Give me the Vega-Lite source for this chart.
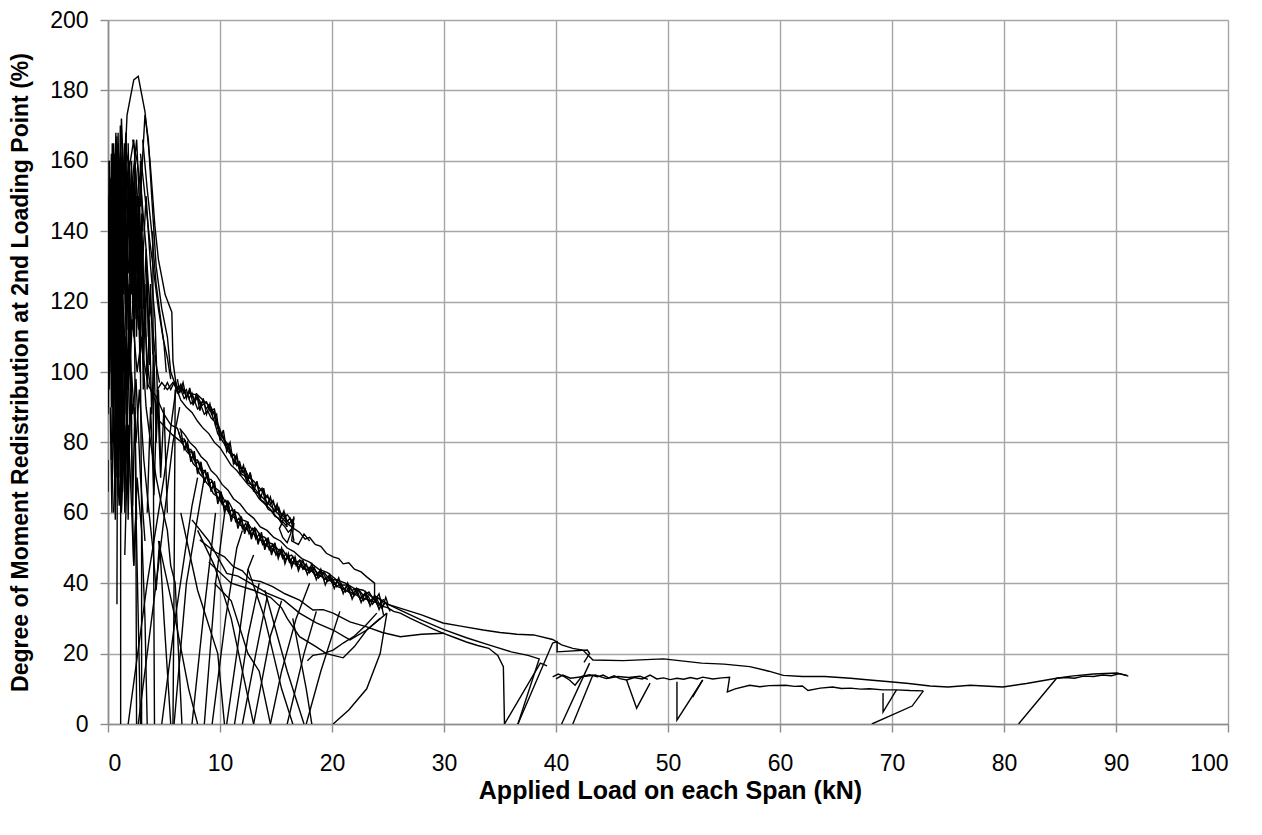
{
"$schema":"https://vega.github.io/schema/vega-lite/v6.json",
"width":1120,"height":704,
"autosize":{"type":"none"},
"padding":{"left":108,"top":20,"right":34,"bottom":111},
"background":"white",
"config":{"view":{"stroke":null},"axis":{"labelFont":"Liberation Sans","titleFont":"Liberation Sans","labelColor":"#000","titleColor":"#000","gridColor":"#a6a6a6","gridWidth":1.4,"domainColor":"#8c8c8c","domainWidth":1.6,"tickColor":"#8c8c8c","tickWidth":1.4,"tickSize":8,"labelFontSize":23,"titleFontWeight":"bold"}},
"data":{"values":[
{"s":"E1","x":0,"y":66},{"s":"E1","x":0,"y":75},
{"s":"E2","x":0,"y":88},{"s":"E2","x":0.15,"y":125},{"s":"E2","x":0.3,"y":152},{"s":"E2","x":0.45,"y":138},{"s":"E2","x":0.6,"y":160},{"s":"E2","x":0.75,"y":145},{"s":"E2","x":0.9,"y":165},{"s":"E2","x":1.05,"y":150},{"s":"E2","x":1.13,"y":110},{"s":"E2","x":1.13,"y":0},
{"s":"E3","x":0,"y":110},{"s":"E3","x":0.2,"y":145},{"s":"E3","x":0.35,"y":158},{"s":"E3","x":0.5,"y":130},{"s":"E3","x":0.65,"y":162},{"s":"E3","x":0.8,"y":120},{"s":"E3","x":0.82,"y":60},{"s":"E3","x":0.8,"y":34},
{"s":"E4","x":0.05,"y":95},{"s":"E4","x":0.25,"y":150},{"s":"E4","x":0.45,"y":163},{"s":"E4","x":0.6,"y":150},{"s":"E4","x":0.8,"y":167},{"s":"E4","x":1.0,"y":140},{"s":"E4","x":1.2,"y":172},{"s":"E4","x":1.4,"y":155},{"s":"E4","x":1.7,"y":130},{"s":"E4","x":2.0,"y":112},{"s":"E4","x":2.2,"y":60},{"s":"E4","x":2.3,"y":45},{"s":"E4","x":2.5,"y":60},{"s":"E4","x":2.7,"y":30},{"s":"E4","x":2.9,"y":0},
{"s":"E5","x":0.1,"y":118},{"s":"E5","x":0.35,"y":140},{"s":"E5","x":0.6,"y":156},{"s":"E5","x":0.9,"y":148},{"s":"E5","x":1.1,"y":160},{"s":"E5","x":1.35,"y":150},{"s":"E5","x":1.6,"y":168},{"s":"E5","x":1.9,"y":140},{"s":"E5","x":2.1,"y":155},{"s":"E5","x":2.4,"y":120},{"s":"E5","x":2.6,"y":135},{"s":"E5","x":2.9,"y":100},{"s":"E5","x":3.0,"y":60},{"s":"E5","x":3.0,"y":0},
{"s":"E11","x":1.0,"y":90},{"s":"E11","x":1.4,"y":105},{"s":"E11","x":1.8,"y":95},{"s":"E11","x":2.2,"y":115},{"s":"E11","x":2.6,"y":100},{"s":"E11","x":3.0,"y":110},{"s":"E11","x":3.4,"y":90},{"s":"E11","x":3.8,"y":80},{"s":"E11","x":4.3,"y":70},{"s":"E11","x":4.8,"y":62},{"s":"E11","x":5.3,"y":55},{"s":"E11","x":5.6,"y":45},{"s":"E11","x":6.0,"y":40},{"s":"E11","x":6.3,"y":20},{"s":"E11","x":6.6,"y":0},
{"s":"E12","x":1.2,"y":60},{"s":"E12","x":1.5,"y":85},{"s":"E12","x":1.8,"y":70},{"s":"E12","x":2.1,"y":100},{"s":"E12","x":2.5,"y":80},{"s":"E12","x":2.8,"y":95},{"s":"E12","x":3.2,"y":75},{"s":"E12","x":3.6,"y":62},{"s":"E12","x":4.0,"y":50},{"s":"E12","x":4.3,"y":38},{"s":"E12","x":4.6,"y":52},{"s":"E12","x":5.0,"y":30},{"s":"E12","x":5.4,"y":10},{"s":"E12","x":5.6,"y":0},
{"s":"E13","x":1.5,"y":48},{"s":"E13","x":1.8,"y":85},{"s":"E13","x":2.1,"y":62},{"s":"E13","x":2.3,"y":45},{"s":"E13","x":2.6,"y":70},{"s":"E13","x":3.0,"y":55},{"s":"E13","x":3.3,"y":30},{"s":"E13","x":3.5,"y":0},
{"s":"E14","x":0.5,"y":60},{"s":"E14","x":0.7,"y":80},{"s":"E14","x":1.0,"y":62},{"s":"E14","x":1.3,"y":95},{"s":"E14","x":1.6,"y":75},{"s":"E14","x":1.9,"y":105},{"s":"E14","x":2.2,"y":88},{"s":"E14","x":2.5,"y":98},{"s":"E14","x":2.9,"y":70},{"s":"E14","x":3.3,"y":52},
{"s":"E15","x":0,"y":150},{"s":"E15","x":0.1,"y":120},{"s":"E15","x":0.2,"y":155},{"s":"E15","x":0.3,"y":110},{"s":"E15","x":0.4,"y":150},{"s":"E15","x":0.5,"y":100},{"s":"E15","x":0.6,"y":145},{"s":"E15","x":0.7,"y":95},{"s":"E15","x":0.85,"y":140},{"s":"E15","x":1.0,"y":105},{"s":"E15","x":1.1,"y":150},{"s":"E15","x":1.25,"y":115},{"s":"E15","x":1.4,"y":155},{"s":"E15","x":1.55,"y":120},
{"s":"E16","x":0,"y":130},{"s":"E16","x":0.12,"y":160},{"s":"E16","x":0.25,"y":118},{"s":"E16","x":0.38,"y":165},{"s":"E16","x":0.5,"y":125},{"s":"E16","x":0.62,"y":160},{"s":"E16","x":0.75,"y":112},{"s":"E16","x":0.9,"y":155},{"s":"E16","x":1.05,"y":120},{"s":"E16","x":1.2,"y":148},{"s":"E16","x":1.35,"y":100},{"s":"E16","x":1.5,"y":140},{"s":"E16","x":1.7,"y":95},{"s":"E16","x":1.9,"y":125},{"s":"E16","x":2.1,"y":85},
{"s":"E17","x":0.05,"y":105},{"s":"E17","x":0.2,"y":140},{"s":"E17","x":0.35,"y":95},{"s":"E17","x":0.5,"y":135},{"s":"E17","x":0.7,"y":85},{"s":"E17","x":0.85,"y":125},{"s":"E17","x":1.0,"y":78},{"s":"E17","x":1.2,"y":120},{"s":"E17","x":1.4,"y":72},{"s":"E17","x":1.6,"y":110},{"s":"E17","x":1.8,"y":65},{"s":"E17","x":2.0,"y":100},{"s":"E17","x":2.2,"y":62},{"s":"E17","x":2.4,"y":90},{"s":"E17","x":2.55,"y":58},
{"s":"E18","x":0,"y":145},{"s":"E18","x":0.15,"y":100},{"s":"E18","x":0.3,"y":140},{"s":"E18","x":0.45,"y":90},{"s":"E18","x":0.6,"y":130},{"s":"E18","x":0.75,"y":82},{"s":"E18","x":0.9,"y":120},{"s":"E18","x":1.1,"y":75},{"s":"E18","x":1.3,"y":115},{"s":"E18","x":1.5,"y":88},{"s":"E18","x":1.7,"y":128},{"s":"E18","x":1.9,"y":100},{"s":"E18","x":2.1,"y":138},{"s":"E18","x":2.3,"y":110},{"s":"E18","x":2.5,"y":150},{"s":"E18","x":2.7,"y":125},{"s":"E18","x":2.9,"y":160},{"s":"E18","x":3.1,"y":140},
{"s":"E19","x":0.5,"y":150},{"s":"E19","x":0.7,"y":166},{"s":"E19","x":0.9,"y":140},{"s":"E19","x":1.1,"y":160},{"s":"E19","x":1.3,"y":135},{"s":"E19","x":1.5,"y":158},{"s":"E19","x":1.7,"y":128},{"s":"E19","x":1.9,"y":150},{"s":"E19","x":2.1,"y":122},{"s":"E19","x":2.3,"y":145},{"s":"E19","x":2.5,"y":115},{"s":"E19","x":2.7,"y":140},{"s":"E19","x":2.9,"y":108},
{"s":"E20","x":0.2,"y":90},{"s":"E20","x":0.35,"y":60},{"s":"E20","x":0.5,"y":95},{"s":"E20","x":0.65,"y":58},{"s":"E20","x":0.8,"y":100},{"s":"E20","x":0.95,"y":70},{"s":"E20","x":1.1,"y":108},{"s":"E20","x":1.3,"y":75},{"s":"E20","x":1.5,"y":110},{"s":"E20","x":1.7,"y":80},{"s":"E20","x":1.9,"y":115},{"s":"E20","x":2.1,"y":90},
{"s":"E21","x":2.3,"y":140},{"s":"E21","x":2.4,"y":100},{"s":"E21","x":2.5,"y":50},{"s":"E21","x":2.55,"y":0},
{"s":"E22","x":0,"y":100},{"s":"E22","x":0.08,"y":140},{"s":"E22","x":0.16,"y":105},{"s":"E22","x":0.24,"y":150},{"s":"E22","x":0.32,"y":112},{"s":"E22","x":0.4,"y":158},{"s":"E22","x":0.48,"y":120},{"s":"E22","x":0.56,"y":162},{"s":"E22","x":0.64,"y":125},{"s":"E22","x":0.72,"y":155},{"s":"E22","x":0.8,"y":118},{"s":"E22","x":0.88,"y":150},{"s":"E22","x":0.96,"y":110},{"s":"E22","x":1.04,"y":145},{"s":"E22","x":1.12,"y":105},
{"s":"E23","x":0.1,"y":160},{"s":"E23","x":0.2,"y":130},{"s":"E23","x":0.3,"y":162},{"s":"E23","x":0.4,"y":135},{"s":"E23","x":0.5,"y":165},{"s":"E23","x":0.6,"y":138},{"s":"E23","x":0.7,"y":168},{"s":"E23","x":0.8,"y":140},{"s":"E23","x":0.9,"y":160},{"s":"E23","x":1.0,"y":132},{"s":"E23","x":1.1,"y":155},{"s":"E23","x":1.2,"y":128},{"s":"E23","x":1.3,"y":150},{"s":"E23","x":1.4,"y":122},{"s":"E23","x":1.5,"y":145},{"s":"E23","x":1.6,"y":118},{"s":"E23","x":1.7,"y":140},{"s":"E23","x":1.8,"y":112},
{"s":"E24","x":0,"y":120},{"s":"E24","x":0.1,"y":95},{"s":"E24","x":0.2,"y":125},{"s":"E24","x":0.3,"y":90},{"s":"E24","x":0.4,"y":118},{"s":"E24","x":0.5,"y":85},{"s":"E24","x":0.6,"y":115},{"s":"E24","x":0.7,"y":80},{"s":"E24","x":0.8,"y":110},{"s":"E24","x":0.9,"y":75},{"s":"E24","x":1.0,"y":105},{"s":"E24","x":1.1,"y":70},{"s":"E24","x":1.2,"y":100},{"s":"E24","x":1.3,"y":66},{"s":"E24","x":1.4,"y":95},{"s":"E24","x":1.5,"y":62},
{"s":"E25","x":1.5,"y":160},{"s":"E25","x":1.65,"y":130},{"s":"E25","x":1.8,"y":155},{"s":"E25","x":1.95,"y":125},{"s":"E25","x":2.1,"y":150},{"s":"E25","x":2.25,"y":118},{"s":"E25","x":2.4,"y":145},{"s":"E25","x":2.55,"y":110},{"s":"E25","x":2.7,"y":138},{"s":"E25","x":2.85,"y":100},{"s":"E25","x":3.0,"y":130},{"s":"E25","x":3.15,"y":95},{"s":"E25","x":3.3,"y":120},
{"s":"E26","x":0.3,"y":75},{"s":"E26","x":0.45,"y":110},{"s":"E26","x":0.6,"y":70},{"s":"E26","x":0.75,"y":105},{"s":"E26","x":0.9,"y":65},{"s":"E26","x":1.05,"y":100},{"s":"E26","x":1.2,"y":62},{"s":"E26","x":1.35,"y":95},{"s":"E26","x":1.5,"y":60},{"s":"E26","x":1.65,"y":90},{"s":"E26","x":1.8,"y":58},{"s":"E26","x":1.95,"y":85},
{"s":"E27","x":0.05,"y":140},{"s":"E27","x":0.05,"y":90},
{"s":"E28","x":1.8,"y":165},{"s":"E28","x":1.95,"y":140},{"s":"E28","x":2.1,"y":160},{"s":"E28","x":2.25,"y":135},{"s":"E28","x":2.4,"y":158},{"s":"E28","x":2.55,"y":130},{"s":"E28","x":2.7,"y":150},{"s":"E28","x":2.85,"y":125},{"s":"E28","x":3.0,"y":145},{"s":"E28","x":3.2,"y":118},{"s":"E28","x":3.4,"y":135},{"s":"E28","x":3.6,"y":110},{"s":"E28","x":3.8,"y":125},{"s":"E28","x":4.0,"y":105},
{"s":"E29","x":2.9,"y":162},{"s":"E29","x":3.3,"y":150},{"s":"E29","x":3.7,"y":138},{"s":"E29","x":4.1,"y":128},{"s":"E29","x":4.5,"y":118},{"s":"E29","x":4.9,"y":110},{"s":"E29","x":5.3,"y":104},{"s":"E29","x":5.6,"y":98},
{"s":"E30","x":3.1,"y":166},{"s":"E30","x":3.5,"y":152},{"s":"E30","x":3.9,"y":140},{"s":"E30","x":4.3,"y":125},{"s":"E30","x":4.7,"y":115},{"s":"E30","x":5.0,"y":108},{"s":"E30","x":5.2,"y":100},
{"s":"E31","x":2.2,"y":166},{"s":"E31","x":2.6,"y":160},{"s":"E31","x":3.0,"y":150},{"s":"E31","x":3.4,"y":135},{"s":"E31","x":3.7,"y":120},{"s":"E31","x":4.0,"y":112},{"s":"E31","x":4.3,"y":102},{"s":"E31","x":4.6,"y":97},
{"s":"E32","x":2.5,"y":150},{"s":"E32","x":2.7,"y":120},{"s":"E32","x":2.9,"y":140},{"s":"E32","x":3.1,"y":105},{"s":"E32","x":3.3,"y":125},{"s":"E32","x":3.5,"y":95},{"s":"E32","x":3.7,"y":115},{"s":"E32","x":3.9,"y":88},{"s":"E32","x":4.1,"y":105},{"s":"E32","x":4.3,"y":80},{"s":"E32","x":4.5,"y":95},{"s":"E32","x":4.7,"y":75},
{"s":"E33","x":1.9,"y":160},{"s":"E33","x":2.1,"y":138},{"s":"E33","x":2.3,"y":152},{"s":"E33","x":2.5,"y":128},{"s":"E33","x":2.7,"y":145},{"s":"E33","x":2.9,"y":118},{"s":"E33","x":3.1,"y":135},{"s":"E33","x":3.3,"y":110},{"s":"E33","x":3.5,"y":128},{"s":"E33","x":3.7,"y":102},
{"s":"E34","x":0.9,"y":168},{"s":"E34","x":1.0,"y":145},{"s":"E34","x":1.1,"y":170},{"s":"E34","x":1.2,"y":150},{"s":"E34","x":1.3,"y":165},{"s":"E34","x":1.45,"y":140},{"s":"E34","x":1.6,"y":162},{"s":"E34","x":1.75,"y":138},{"s":"E34","x":1.9,"y":158},{"s":"E34","x":2.05,"y":132},
{"s":"E35","x":3.5,"y":60},{"s":"E35","x":3.8,"y":90},{"s":"E35","x":4.1,"y":65},{"s":"E35","x":4.4,"y":95},{"s":"E35","x":4.7,"y":70},{"s":"E35","x":5.0,"y":90},{"s":"E35","x":5.3,"y":60},
{"s":"E36","x":4.0,"y":140},{"s":"E36","x":4.05,"y":80},{"s":"E36","x":4.1,"y":30},{"s":"E36","x":4.15,"y":0},
{"s":"V1","x":6.0,"y":95},{"s":"V1","x":5.9,"y":40},{"s":"V1","x":5.8,"y":0},
{"s":"U1","x":0.2,"y":135},{"s":"U1","x":0.5,"y":150},{"s":"U1","x":0.9,"y":162},{"s":"U1","x":1.3,"y":145},{"s":"U1","x":1.7,"y":173},{"s":"U1","x":2.0,"y":178},{"s":"U1","x":2.3,"y":183},{"s":"U1","x":2.7,"y":184},{"s":"U1","x":3.3,"y":174},{"s":"U1","x":3.75,"y":160},{"s":"U1","x":4.2,"y":141},{"s":"U1","x":4.5,"y":132},{"s":"U1","x":5.1,"y":122},{"s":"U1","x":5.7,"y":117},{"s":"U1","x":5.8,"y":103},{"s":"U1","x":6.1,"y":96},{"s":"U1","x":7,"y":94},{"s":"U1","x":8,"y":93.5},{"s":"U1","x":8.5,"y":92},{"s":"U1","x":9.2,"y":90},{"s":"U1","x":9.6,"y":87},{"s":"U1","x":9.8,"y":84},{"s":"U1","x":10.5,"y":80},{"s":"U1","x":11.2,"y":75},{"s":"U1","x":12,"y":72},{"s":"U1","x":12.8,"y":68},{"s":"U1","x":13.6,"y":65},{"s":"U1","x":14.5,"y":62},{"s":"U1","x":15.4,"y":59},{"s":"U1","x":16,"y":57},{"s":"U1","x":16.6,"y":55.5},{"s":"U1","x":17.1,"y":54.5},{"s":"U1","x":17.6,"y":52.5},{"s":"U1","x":18,"y":53},{"s":"U1","x":18.5,"y":51},{"s":"U1","x":19,"y":50.5},{"s":"U1","x":19.5,"y":48.5},{"s":"U1","x":20.1,"y":47.5},{"s":"U1","x":20.6,"y":47},{"s":"U1","x":21,"y":45.5},{"s":"U1","x":21.5,"y":45.8},{"s":"U1","x":22,"y":44},{"s":"U1","x":22.6,"y":43.2},{"s":"U1","x":23.1,"y":41.8},{"s":"U1","x":23.8,"y":40},{"s":"U1","x":23.8,"y":36.5},{"s":"U1","x":25,"y":34},{"s":"U1","x":26.5,"y":32.5},{"s":"U1","x":28,"y":31},{"s":"U1","x":29.9,"y":28.7},{"s":"U1","x":31.5,"y":27.8},{"s":"U1","x":33.5,"y":26.7},{"s":"U1","x":35,"y":26},{"s":"U1","x":36.5,"y":25.5},{"s":"U1","x":38,"y":25.3},{"s":"U1","x":39.7,"y":24},{"s":"U1","x":40.5,"y":22.5},{"s":"U1","x":41.5,"y":21.5},{"s":"U1","x":42.4,"y":21},{"s":"U1","x":43.3,"y":18.2},{"s":"U1","x":46,"y":18},{"s":"U1","x":49.6,"y":18.5},{"s":"U1","x":51,"y":18},{"s":"U1","x":53,"y":17.3},{"s":"U1","x":55,"y":17},{"s":"U1","x":57.3,"y":16.3},{"s":"U1","x":59,"y":15},{"s":"U1","x":60.3,"y":13.8},{"s":"U1","x":62,"y":13.5},{"s":"U1","x":64,"y":13.5},{"s":"U1","x":66.3,"y":13},{"s":"U1","x":68,"y":12.5},{"s":"U1","x":69.8,"y":12},{"s":"U1","x":71.5,"y":11.5},{"s":"U1","x":73.4,"y":10.8},{"s":"U1","x":75,"y":10.5},{"s":"U1","x":77,"y":11},{"s":"U1","x":79.9,"y":10.5},{"s":"U1","x":82,"y":11.5},{"s":"U1","x":84.7,"y":13},{"s":"U1","x":86,"y":13.6},{"s":"U1","x":88,"y":14.2},{"s":"U1","x":90.1,"y":14.5},{"s":"U1","x":91.1,"y":13.6},
{"s":"U2","x":0.4,"y":80},{"s":"U2","x":0.7,"y":120},{"s":"U2","x":1.0,"y":140},{"s":"U2","x":1.3,"y":125},{"s":"U2","x":1.6,"y":150},{"s":"U2","x":2.0,"y":135},{"s":"U2","x":2.4,"y":160},{"s":"U2","x":2.7,"y":145},{"s":"U2","x":3.0,"y":125},{"s":"U2","x":3.4,"y":150},{"s":"U2","x":3.8,"y":130},{"s":"U2","x":4.2,"y":115},{"s":"U2","x":4.4,"y":95},{"s":"U2","x":4.8,"y":97},{"s":"U2","x":5.3,"y":95},{"s":"U2","x":5.8,"y":97},{"s":"U2","x":6.2,"y":95},{"s":"U2","x":6.6,"y":96},{"s":"U2","x":7.0,"y":93},{"s":"U2","x":7.3,"y":94.5},{"s":"U2","x":7.7,"y":92},{"s":"U2","x":8.0,"y":93},{"s":"U2","x":8.4,"y":90.5},{"s":"U2","x":8.8,"y":91.5},{"s":"U2","x":9.1,"y":89},{"s":"U2","x":9.5,"y":89.5},{"s":"U2","x":9.7,"y":86},{"s":"U2","x":9.9,"y":84.5},{"s":"U2","x":10.3,"y":81},{"s":"U2","x":10.7,"y":79.5},{"s":"U2","x":11.0,"y":77},{"s":"U2","x":11.4,"y":76},{"s":"U2","x":11.8,"y":73},{"s":"U2","x":12.2,"y":72.5},{"s":"U2","x":12.6,"y":70},{"s":"U2","x":13.0,"y":69},{"s":"U2","x":13.4,"y":67.5},{"s":"U2","x":13.8,"y":66},{"s":"U2","x":14.2,"y":64.5},{"s":"U2","x":14.6,"y":63.5},{"s":"U2","x":15.0,"y":61.5},{"s":"U2","x":15.4,"y":60},{"s":"U2","x":15.8,"y":58.5},{"s":"U2","x":16.2,"y":57},{"s":"U2","x":16.6,"y":58.5},{"s":"U2","x":16.3,"y":54},{"s":"U2","x":16.0,"y":51.5},{"s":"U2","x":15.6,"y":53},{"s":"U2","x":15.3,"y":55.5},{"s":"U2","x":15.6,"y":57.5},{"s":"U2","x":16.0,"y":56},
{"s":"U3","x":0.3,"y":100},{"s":"U3","x":0.6,"y":128},{"s":"U3","x":0.9,"y":150},{"s":"U3","x":1.2,"y":140},{"s":"U3","x":1.5,"y":165},{"s":"U3","x":1.9,"y":158},{"s":"U3","x":2.3,"y":166},{"s":"U3","x":2.6,"y":150},{"s":"U3","x":2.9,"y":147},{"s":"U3","x":3.0,"y":156},{"s":"U3","x":3.3,"y":173},{"s":"U3","x":3.6,"y":166},{"s":"U3","x":3.9,"y":150},{"s":"U3","x":4.3,"y":130},{"s":"U3","x":4.8,"y":118},{"s":"U3","x":5.3,"y":110},{"s":"U3","x":5.6,"y":100},{"s":"U3","x":6.0,"y":96.5},{"s":"U3","x":6.5,"y":92},{"s":"U3","x":7.0,"y":90},{"s":"U3","x":7.5,"y":88.5},{"s":"U3","x":8.0,"y":86},{"s":"U3","x":8.5,"y":84},{"s":"U3","x":9.0,"y":82.5},{"s":"U3","x":9.5,"y":80},{"s":"U3","x":10.0,"y":78.5},{"s":"U3","x":10.5,"y":76},{"s":"U3","x":11.0,"y":73.5},{"s":"U3","x":11.5,"y":72},{"s":"U3","x":12.0,"y":70},{"s":"U3","x":12.5,"y":68},{"s":"U3","x":13.0,"y":66.5},{"s":"U3","x":13.5,"y":64},{"s":"U3","x":14.0,"y":62.5},{"s":"U3","x":14.5,"y":61},{"s":"U3","x":15.0,"y":59},{"s":"U3","x":15.5,"y":57.5},{"s":"U3","x":16.0,"y":59.5},{"s":"U3","x":16.6,"y":57},{"s":"U3","x":16.4,"y":52},{"s":"U3","x":17.0,"y":51},{"s":"U3","x":17.5,"y":54},{"s":"U3","x":18,"y":52},
{"s":"U4","x":6.0,"y":97.5},{"s":"U4","x":6.25,"y":95},{"s":"U4","x":6.5,"y":96.5},{"s":"U4","x":6.75,"y":94},{"s":"U4","x":7.0,"y":95},{"s":"U4","x":7.25,"y":92.5},{"s":"U4","x":7.5,"y":94},{"s":"U4","x":7.75,"y":91.5},{"s":"U4","x":8.0,"y":93},{"s":"U4","x":8.25,"y":90.5},{"s":"U4","x":8.5,"y":92},{"s":"U4","x":8.75,"y":89.5},{"s":"U4","x":9.0,"y":90.5},{"s":"U4","x":9.25,"y":88},{"s":"U4","x":9.5,"y":89},{"s":"U4","x":9.6,"y":85},{"s":"U4","x":9.75,"y":85.5},{"s":"U4","x":10.0,"y":82},{"s":"U4","x":10.25,"y":82},{"s":"U4","x":10.5,"y":79},{"s":"U4","x":10.75,"y":79.5},{"s":"U4","x":11.0,"y":76},{"s":"U4","x":11.25,"y":76.5},{"s":"U4","x":11.5,"y":73.5},{"s":"U4","x":11.75,"y":74.5},{"s":"U4","x":12.0,"y":71.5},{"s":"U4","x":12.25,"y":72.5},{"s":"U4","x":12.5,"y":69.5},{"s":"U4","x":12.75,"y":70.5},{"s":"U4","x":13.0,"y":67.5},{"s":"U4","x":13.25,"y":68.5},{"s":"U4","x":13.5,"y":66},{"s":"U4","x":13.75,"y":67},{"s":"U4","x":14.0,"y":64},{"s":"U4","x":14.25,"y":65},{"s":"U4","x":14.5,"y":62.5},{"s":"U4","x":14.75,"y":63.5},{"s":"U4","x":15.0,"y":60.5},{"s":"U4","x":15.25,"y":61.5},{"s":"U4","x":15.5,"y":59},{"s":"U4","x":15.75,"y":60},{"s":"U4","x":16.0,"y":57.5},{"s":"U4","x":16.25,"y":58.5},{"s":"U4","x":16.5,"y":56},{"s":"U4","x":16.6,"y":59},
{"s":"U5","x":5.0,"y":95},{"s":"U5","x":5.3,"y":97},{"s":"U5","x":5.6,"y":95},{"s":"U5","x":5.9,"y":97},{"s":"U5","x":6.2,"y":94},{"s":"U5","x":6.5,"y":95},{"s":"U5","x":6.8,"y":92.5},{"s":"U5","x":7.1,"y":93.5},{"s":"U5","x":7.4,"y":91},{"s":"U5","x":7.7,"y":92},{"s":"U5","x":8.0,"y":89.5},{"s":"U5","x":8.3,"y":90.5},{"s":"U5","x":8.6,"y":88},{"s":"U5","x":8.9,"y":89},{"s":"U5","x":9.2,"y":87},{"s":"U5","x":9.5,"y":86},{"s":"U5","x":9.8,"y":82.5},{"s":"U5","x":10.1,"y":81},{"s":"U5","x":10.4,"y":79.5},{"s":"U5","x":10.7,"y":77.5},{"s":"U5","x":11.0,"y":76.5},{"s":"U5","x":11.3,"y":74},{"s":"U5","x":11.6,"y":73.5},{"s":"U5","x":11.9,"y":71},{"s":"U5","x":12.2,"y":70.5},{"s":"U5","x":12.5,"y":68.5},{"s":"U5","x":12.8,"y":68},{"s":"U5","x":13.1,"y":66},{"s":"U5","x":13.4,"y":65.5},{"s":"U5","x":13.7,"y":63.5},{"s":"U5","x":14.0,"y":63},{"s":"U5","x":14.3,"y":61},{"s":"U5","x":14.6,"y":60.5},{"s":"U5","x":14.9,"y":59},{"s":"U5","x":15.2,"y":58.5},{"s":"U5","x":15.5,"y":57},{"s":"U5","x":15.8,"y":56},{"s":"U5","x":16.1,"y":54.5},{"s":"U5","x":16.4,"y":55.5},{"s":"U5","x":16.6,"y":52},
{"s":"U6","x":6.2,"y":98},{"s":"U6","x":6.4,"y":94},{"s":"U6","x":6.7,"y":97},{"s":"U6","x":7.0,"y":92.5},{"s":"U6","x":7.3,"y":95.5},{"s":"U6","x":7.6,"y":90.5},{"s":"U6","x":7.9,"y":94},{"s":"U6","x":8.2,"y":89},{"s":"U6","x":8.5,"y":92.5},{"s":"U6","x":8.8,"y":88},{"s":"U6","x":9.1,"y":91},{"s":"U6","x":9.4,"y":86.5},{"s":"U6","x":9.7,"y":88},{"s":"U6","x":10.0,"y":80.5},{"s":"U6","x":10.3,"y":83.5},{"s":"U6","x":10.6,"y":77.5},{"s":"U6","x":10.9,"y":80},{"s":"U6","x":11.2,"y":74},{"s":"U6","x":11.5,"y":76.5},{"s":"U6","x":11.8,"y":71},{"s":"U6","x":12.1,"y":73.5},{"s":"U6","x":12.4,"y":68.5},{"s":"U6","x":12.7,"y":71.5},{"s":"U6","x":13.0,"y":66},{"s":"U6","x":13.3,"y":69},{"s":"U6","x":13.6,"y":64},{"s":"U6","x":13.9,"y":67},{"s":"U6","x":14.2,"y":62},{"s":"U6","x":14.5,"y":64.5},{"s":"U6","x":14.8,"y":60},{"s":"U6","x":15.1,"y":62.5},{"s":"U6","x":15.4,"y":58},{"s":"U6","x":15.7,"y":60.5},{"s":"U6","x":16.0,"y":56},
{"s":"M1","x":0.6,"y":95},{"s":"M1","x":0.9,"y":130},{"s":"M1","x":1.2,"y":118},{"s":"M1","x":1.5,"y":140},{"s":"M1","x":1.8,"y":128},{"s":"M1","x":2.2,"y":155},{"s":"M1","x":2.56,"y":166},{"s":"M1","x":2.9,"y":140},{"s":"M1","x":3.2,"y":120},{"s":"M1","x":3.5,"y":103},{"s":"M1","x":3.8,"y":95},{"s":"M1","x":4.2,"y":92},{"s":"M1","x":4.6,"y":86},{"s":"M1","x":5.2,"y":84},{"s":"M1","x":5.8,"y":82},{"s":"M1","x":6.4,"y":80.5},{"s":"M1","x":6.7,"y":79.5},{"s":"M1","x":7.0,"y":77.5},{"s":"M1","x":7.3,"y":76.5},{"s":"M1","x":7.6,"y":74},{"s":"M1","x":7.9,"y":73},{"s":"M1","x":8.2,"y":71},{"s":"M1","x":8.5,"y":70},{"s":"M1","x":8.8,"y":68.5},{"s":"M1","x":9.1,"y":67.5},{"s":"M1","x":9.4,"y":65.5},{"s":"M1","x":9.8,"y":64.5},{"s":"M1","x":10.2,"y":62.5},{"s":"M1","x":10.6,"y":61},{"s":"M1","x":11.0,"y":59},{"s":"M1","x":11.4,"y":58.5},{"s":"M1","x":11.8,"y":56.5},{"s":"M1","x":12.2,"y":56},{"s":"M1","x":12.6,"y":54.5},{"s":"M1","x":13.0,"y":54},{"s":"M1","x":13.4,"y":52.5},{"s":"M1","x":13.8,"y":52},{"s":"M1","x":14.2,"y":50.5},{"s":"M1","x":14.6,"y":50},{"s":"M1","x":15.0,"y":48.5},{"s":"M1","x":15.4,"y":48.5},{"s":"M1","x":15.8,"y":47},{"s":"M1","x":16.2,"y":47},{"s":"M1","x":16.6,"y":45.5},{"s":"M1","x":17.0,"y":45.5},{"s":"M1","x":17.5,"y":44},{"s":"M1","x":18.0,"y":44},{"s":"M1","x":18.5,"y":42.5},{"s":"M1","x":19.0,"y":42},{"s":"M1","x":19.5,"y":41},{"s":"M1","x":20.0,"y":40.5},{"s":"M1","x":20.5,"y":39},{"s":"M1","x":21.0,"y":38.5},{"s":"M1","x":21.5,"y":37.5},{"s":"M1","x":22.0,"y":37},{"s":"M1","x":22.5,"y":36},{"s":"M1","x":23.0,"y":35.5},{"s":"M1","x":23.5,"y":35},{"s":"M1","x":24.0,"y":34.5},{"s":"M1","x":24.5,"y":33.5},{"s":"M1","x":25.0,"y":33},{"s":"M1","x":25.5,"y":32},{"s":"M1","x":26.1,"y":31.5},{"s":"M1","x":27,"y":30},{"s":"M1","x":28,"y":28.5},{"s":"M1","x":29,"y":27},{"s":"M1","x":29.9,"y":25.8},{"s":"M1","x":31,"y":24.5},{"s":"M1","x":32,"y":23.3},{"s":"M1","x":33,"y":22.3},{"s":"M1","x":34,"y":21.5},{"s":"M1","x":34.8,"y":19.5},{"s":"M1","x":35.3,"y":16.3},{"s":"M1","x":35.4,"y":0},{"s":"M1","x":38.6,"y":17.3},{"s":"M1","x":39.2,"y":16.5},
{"s":"M2","x":0.8,"y":70},{"s":"M2","x":1.0,"y":110},{"s":"M2","x":1.3,"y":100},{"s":"M2","x":1.7,"y":125},{"s":"M2","x":2.0,"y":108},{"s":"M2","x":2.4,"y":130},{"s":"M2","x":2.7,"y":113},{"s":"M2","x":2.75,"y":112},{"s":"M2","x":2.7,"y":116},{"s":"M2","x":3.1,"y":105},{"s":"M2","x":3.6,"y":96},{"s":"M2","x":4.3,"y":93},{"s":"M2","x":5,"y":88},{"s":"M2","x":5.6,"y":85},{"s":"M2","x":6.2,"y":84},{"s":"M2","x":6.5,"y":81},{"s":"M2","x":6.8,"y":81},{"s":"M2","x":7.1,"y":78},{"s":"M2","x":7.4,"y":78},{"s":"M2","x":7.7,"y":75},{"s":"M2","x":8.0,"y":75},{"s":"M2","x":8.3,"y":72},{"s":"M2","x":8.6,"y":72},{"s":"M2","x":8.9,"y":69.5},{"s":"M2","x":9.2,"y":69.5},{"s":"M2","x":9.6,"y":67},{"s":"M2","x":10.0,"y":66},{"s":"M2","x":10.4,"y":63.5},{"s":"M2","x":10.8,"y":63},{"s":"M2","x":11.2,"y":60.5},{"s":"M2","x":11.6,"y":60},{"s":"M2","x":12.0,"y":58},{"s":"M2","x":12.4,"y":57.5},{"s":"M2","x":12.8,"y":55.5},{"s":"M2","x":13.2,"y":55.5},{"s":"M2","x":13.6,"y":53.5},{"s":"M2","x":14.0,"y":53},{"s":"M2","x":14.4,"y":51.5},{"s":"M2","x":14.8,"y":51},{"s":"M2","x":15.2,"y":49.5},{"s":"M2","x":15.6,"y":49.5},{"s":"M2","x":16.0,"y":47.5},{"s":"M2","x":16.4,"y":48},{"s":"M2","x":16.8,"y":46},{"s":"M2","x":17.2,"y":46.5},{"s":"M2","x":17.8,"y":44.5},{"s":"M2","x":18.3,"y":44.5},{"s":"M2","x":18.8,"y":42.5},{"s":"M2","x":19.3,"y":43},{"s":"M2","x":19.8,"y":41},{"s":"M2","x":20.3,"y":41},{"s":"M2","x":20.8,"y":39.5},{"s":"M2","x":21.3,"y":39.5},{"s":"M2","x":21.8,"y":38},{"s":"M2","x":22.3,"y":38.5},{"s":"M2","x":22.8,"y":36.5},{"s":"M2","x":23.3,"y":37.5},{"s":"M2","x":23.8,"y":35},{"s":"M2","x":24.2,"y":37},{"s":"M2","x":24.5,"y":33},{"s":"M2","x":24.8,"y":36},{"s":"M2","x":25.0,"y":34},{"s":"M2","x":26,"y":32.5},{"s":"M2","x":28,"y":29.5},{"s":"M2","x":30,"y":26.8},{"s":"M2","x":32,"y":24.5},{"s":"M2","x":34,"y":22.5},{"s":"M2","x":36,"y":20.5},{"s":"M2","x":37.5,"y":19.5},{"s":"M2","x":38.5,"y":18.5},{"s":"M2","x":36.6,"y":0},
{"s":"M3","x":6.4,"y":84},{"s":"M3","x":6.9,"y":82},{"s":"M3","x":7.3,"y":80},{"s":"M3","x":7.8,"y":78.5},{"s":"M3","x":8.3,"y":76},{"s":"M3","x":8.8,"y":74.5},{"s":"M3","x":9.2,"y":72},{"s":"M3","x":9.7,"y":70.5},{"s":"M3","x":10.2,"y":68},{"s":"M3","x":10.7,"y":66.5},{"s":"M3","x":11.2,"y":64},{"s":"M3","x":11.8,"y":62.5},{"s":"M3","x":12.4,"y":60},{"s":"M3","x":13.0,"y":58.5},{"s":"M3","x":13.6,"y":56},{"s":"M3","x":14.2,"y":55},{"s":"M3","x":14.8,"y":53},{"s":"M3","x":15.4,"y":52},{"s":"M3","x":16.0,"y":50},{"s":"M3","x":16.6,"y":49},{"s":"M3","x":17.3,"y":47},{"s":"M3","x":18.0,"y":46},{"s":"M3","x":18.8,"y":44},{"s":"M3","x":19.6,"y":43},{"s":"M3","x":20.4,"y":41},{"s":"M3","x":21.2,"y":40},{"s":"M3","x":22.0,"y":38.5},{"s":"M3","x":22.8,"y":38},{"s":"M3","x":23.6,"y":36},{"s":"M3","x":24.3,"y":35.5},{"s":"M3","x":24.6,"y":31},
{"s":"M4","x":6.3,"y":83},{"s":"M4","x":6.6,"y":80},{"s":"M4","x":6.9,"y":80.5},{"s":"M4","x":7.2,"y":77},{"s":"M4","x":7.5,"y":77.5},{"s":"M4","x":7.8,"y":74},{"s":"M4","x":8.1,"y":74.5},{"s":"M4","x":8.4,"y":71},{"s":"M4","x":8.7,"y":72},{"s":"M4","x":9.0,"y":68},{"s":"M4","x":9.3,"y":69},{"s":"M4","x":9.6,"y":65.5},{"s":"M4","x":9.9,"y":66},{"s":"M4","x":10.2,"y":62.5},{"s":"M4","x":10.5,"y":63.5},{"s":"M4","x":10.8,"y":60},{"s":"M4","x":11.1,"y":61},{"s":"M4","x":11.4,"y":57.5},{"s":"M4","x":11.7,"y":58.5},{"s":"M4","x":12.0,"y":55.5},{"s":"M4","x":12.3,"y":57},{"s":"M4","x":12.6,"y":54},{"s":"M4","x":12.9,"y":55.5},{"s":"M4","x":13.2,"y":52.5},{"s":"M4","x":13.5,"y":54},{"s":"M4","x":13.8,"y":51},{"s":"M4","x":14.1,"y":52.5},{"s":"M4","x":14.4,"y":49.5},{"s":"M4","x":14.7,"y":51},{"s":"M4","x":15.0,"y":48},{"s":"M4","x":15.3,"y":49.5},{"s":"M4","x":15.6,"y":47},{"s":"M4","x":15.9,"y":48.5},{"s":"M4","x":16.2,"y":46},{"s":"M4","x":16.5,"y":47.5},{"s":"M4","x":16.8,"y":45},{"s":"M4","x":17.1,"y":46.5},{"s":"M4","x":17.4,"y":44},{"s":"M4","x":17.7,"y":45.5},{"s":"M4","x":18.0,"y":43},{"s":"M4","x":18.4,"y":44.5},{"s":"M4","x":18.8,"y":41.5},{"s":"M4","x":19.2,"y":43},{"s":"M4","x":19.6,"y":40.5},{"s":"M4","x":20.0,"y":41.5},{"s":"M4","x":20.4,"y":39},{"s":"M4","x":20.8,"y":40},{"s":"M4","x":21.2,"y":37.5},{"s":"M4","x":21.6,"y":39},{"s":"M4","x":22.0,"y":36.5},{"s":"M4","x":22.4,"y":38},{"s":"M4","x":22.8,"y":35},{"s":"M4","x":23.2,"y":36.5},{"s":"M4","x":23.6,"y":34},{"s":"M4","x":24.0,"y":35.5},{"s":"M4","x":24.4,"y":33},{"s":"M4","x":24.8,"y":34.5},{"s":"M4","x":25.2,"y":32},
{"s":"M5","x":6.8,"y":78},{"s":"M5","x":7.1,"y":79.5},{"s":"M5","x":7.4,"y":75.5},{"s":"M5","x":7.7,"y":76.5},{"s":"M5","x":8.0,"y":72},{"s":"M5","x":8.3,"y":73.5},{"s":"M5","x":8.6,"y":69.5},{"s":"M5","x":8.9,"y":70.5},{"s":"M5","x":9.2,"y":67},{"s":"M5","x":9.5,"y":67.5},{"s":"M5","x":9.8,"y":64},{"s":"M5","x":10.1,"y":65},{"s":"M5","x":10.4,"y":61.5},{"s":"M5","x":10.7,"y":62.5},{"s":"M5","x":11.0,"y":59},{"s":"M5","x":11.3,"y":60},{"s":"M5","x":11.6,"y":57},{"s":"M5","x":11.9,"y":58},{"s":"M5","x":12.2,"y":55},{"s":"M5","x":12.5,"y":56.5},{"s":"M5","x":12.8,"y":53.5},{"s":"M5","x":13.1,"y":55},{"s":"M5","x":13.4,"y":52},{"s":"M5","x":13.7,"y":53.5},{"s":"M5","x":14.0,"y":50.5},{"s":"M5","x":14.3,"y":52},{"s":"M5","x":14.6,"y":49},{"s":"M5","x":14.9,"y":50.5},{"s":"M5","x":15.2,"y":48},{"s":"M5","x":15.5,"y":49},{"s":"M5","x":15.8,"y":46.5},{"s":"M5","x":16.1,"y":47.5},{"s":"M5","x":16.4,"y":45.5},{"s":"M5","x":16.7,"y":46.5},{"s":"M5","x":17.0,"y":44.5},{"s":"M5","x":17.3,"y":45.5},{"s":"M5","x":17.7,"y":43.5},{"s":"M5","x":18.1,"y":44.5},{"s":"M5","x":18.5,"y":42},{"s":"M5","x":18.9,"y":43.5},{"s":"M5","x":19.3,"y":41},{"s":"M5","x":19.7,"y":42},{"s":"M5","x":20.1,"y":39.5},{"s":"M5","x":20.5,"y":40.5},{"s":"M5","x":20.9,"y":38},{"s":"M5","x":21.3,"y":39},{"s":"M5","x":21.7,"y":36.5},{"s":"M5","x":22.1,"y":38},{"s":"M5","x":22.5,"y":35.5},{"s":"M5","x":22.9,"y":37},{"s":"M5","x":23.3,"y":34.5},{"s":"M5","x":23.7,"y":36},{"s":"M5","x":24.1,"y":33.5},{"s":"M5","x":24.5,"y":35},
{"s":"M6","x":6.5,"y":83.5},{"s":"M6","x":6.8,"y":78},{"s":"M6","x":7.1,"y":80},{"s":"M6","x":7.4,"y":74.5},{"s":"M6","x":7.7,"y":77.5},{"s":"M6","x":8.0,"y":71},{"s":"M6","x":8.3,"y":74.5},{"s":"M6","x":8.6,"y":68.5},{"s":"M6","x":8.9,"y":71.5},{"s":"M6","x":9.2,"y":66},{"s":"M6","x":9.5,"y":69},{"s":"M6","x":9.8,"y":62.5},{"s":"M6","x":10.1,"y":66},{"s":"M6","x":10.4,"y":60},{"s":"M6","x":10.7,"y":63.5},{"s":"M6","x":11.0,"y":57.5},{"s":"M6","x":11.3,"y":61},{"s":"M6","x":11.6,"y":55.5},{"s":"M6","x":11.9,"y":59},{"s":"M6","x":12.2,"y":54},{"s":"M6","x":12.5,"y":57.5},{"s":"M6","x":12.8,"y":52.5},{"s":"M6","x":13.1,"y":56},{"s":"M6","x":13.4,"y":51},{"s":"M6","x":13.7,"y":54.5},{"s":"M6","x":14.0,"y":49.5},{"s":"M6","x":14.3,"y":53},{"s":"M6","x":14.6,"y":48},{"s":"M6","x":14.9,"y":51.5},{"s":"M6","x":15.2,"y":47},{"s":"M6","x":15.5,"y":50},{"s":"M6","x":15.8,"y":45.5},{"s":"M6","x":16.1,"y":48.5},{"s":"M6","x":16.4,"y":44.5},{"s":"M6","x":16.7,"y":47.5},{"s":"M6","x":17.0,"y":43.5},{"s":"M6","x":17.4,"y":46.5},{"s":"M6","x":17.8,"y":42.5},{"s":"M6","x":18.2,"y":45.5},{"s":"M6","x":18.6,"y":41},{"s":"M6","x":19.0,"y":44},{"s":"M6","x":19.4,"y":39.5},{"s":"M6","x":19.8,"y":42.5},{"s":"M6","x":20.2,"y":38.5},{"s":"M6","x":20.6,"y":41.5},{"s":"M6","x":21.0,"y":37},{"s":"M6","x":21.4,"y":40},{"s":"M6","x":21.8,"y":35.5},{"s":"M6","x":22.2,"y":38.5},{"s":"M6","x":22.6,"y":34.5},{"s":"M6","x":23.0,"y":37.5},{"s":"M6","x":23.4,"y":33.5},{"s":"M6","x":23.8,"y":36.5},{"s":"M6","x":24.2,"y":32.5},{"s":"M6","x":24.6,"y":35.5},
{"s":"T1","x":8.2,"y":52.3},{"s":"T1","x":9.5,"y":49},{"s":"T1","x":10.4,"y":47.5},{"s":"T1","x":11.2,"y":44.7},{"s":"T1","x":12,"y":43.5},{"s":"T1","x":12.7,"y":41},{"s":"T1","x":13.6,"y":40.5},{"s":"T1","x":14.7,"y":39},{"s":"T1","x":15.8,"y":37},{"s":"T1","x":17.1,"y":35.2},{"s":"T1","x":18.3,"y":32.4},{"s":"T1","x":19.2,"y":32.5},{"s":"T1","x":20.1,"y":31.5},{"s":"T1","x":21.6,"y":29},{"s":"T1","x":23.1,"y":27.6},{"s":"T1","x":24.5,"y":26},{"s":"T1","x":26.1,"y":24.8},{"s":"T1","x":28,"y":25.5},{"s":"T1","x":30,"y":25.8},
{"s":"T2","x":7.5,"y":58},{"s":"T2","x":9,"y":52},{"s":"T2","x":10.6,"y":42.8},{"s":"T2","x":11.6,"y":42},{"s":"T2","x":12.7,"y":40},{"s":"T2","x":14.2,"y":37.2},{"s":"T2","x":15.7,"y":35.2},{"s":"T2","x":17.1,"y":31.5},{"s":"T2","x":18.6,"y":28.7},{"s":"T2","x":20.1,"y":26.7},{"s":"T2","x":21.6,"y":23.9},{"s":"T2","x":23.1,"y":26.7},{"s":"T2","x":24.9,"y":31.5},
{"s":"T3","x":9,"y":46},{"s":"T3","x":11,"y":40},{"s":"T3","x":13,"y":38},{"s":"T3","x":14.5,"y":36},{"s":"T3","x":15.5,"y":33},{"s":"T3","x":16,"y":30},{"s":"T3","x":17.1,"y":24.8},{"s":"T3","x":18.6,"y":21.9},{"s":"T3","x":19.5,"y":20},{"s":"T3","x":21,"y":18.8},{"s":"T3","x":22,"y":22},{"s":"T3","x":23.1,"y":26.7},{"s":"T3","x":24.3,"y":30},
{"s":"T4","x":17.8,"y":18},{"s":"T4","x":18.3,"y":19.5},{"s":"T4","x":19.2,"y":20},{"s":"T4","x":20.1,"y":21},{"s":"T4","x":21,"y":23},{"s":"T4","x":22,"y":25},{"s":"T4","x":23,"y":28},{"s":"T4","x":24,"y":31.5},
{"s":"D1","x":1.8,"y":0},{"s":"D1","x":3.5,"y":40},{"s":"D1","x":5,"y":70},{"s":"D1","x":6.1,"y":96},
{"s":"D2","x":2.7,"y":0},{"s":"D2","x":4.5,"y":45},{"s":"D2","x":5.8,"y":80},{"s":"D2","x":6.4,"y":90},
{"s":"D3","x":4.8,"y":0},{"s":"D3","x":6,"y":30},{"s":"D3","x":7.5,"y":62},{"s":"D3","x":8,"y":70},
{"s":"D4","x":5.9,"y":0},{"s":"D4","x":7,"y":40},{"s":"D4","x":8.6,"y":70},
{"s":"D5","x":7.5,"y":0},{"s":"D5","x":8.5,"y":30},{"s":"D5","x":9.6,"y":60},
{"s":"D6","x":8.6,"y":0},{"s":"D6","x":9.6,"y":40},{"s":"D6","x":10.5,"y":62},
{"s":"D7","x":9.3,"y":0},{"s":"D7","x":10.5,"y":30},{"s":"D7","x":11.5,"y":50},{"s":"D7","x":12,"y":55},
{"s":"D8","x":10.6,"y":0},{"s":"D8","x":11.5,"y":20},{"s":"D8","x":12.5,"y":44},{"s":"D8","x":13,"y":48},
{"s":"D9","x":11.3,"y":0},{"s":"D9","x":12.5,"y":25},{"s":"D9","x":13.5,"y":40},
{"s":"D10","x":12.0,"y":0},{"s":"D10","x":13.2,"y":20},{"s":"D10","x":14.2,"y":36},
{"s":"D11","x":13.0,"y":0},{"s":"D11","x":14.5,"y":25},{"s":"D11","x":15.5,"y":35},
{"s":"D12","x":14.5,"y":0},{"s":"D12","x":15.5,"y":15},{"s":"D12","x":16.8,"y":30},{"s":"D12","x":18,"y":40},
{"s":"D13","x":16.0,"y":0},{"s":"D13","x":17.5,"y":20},{"s":"D13","x":18.6,"y":32},
{"s":"D14","x":17.7,"y":0},{"s":"D14","x":19,"y":15},{"s":"D14","x":20.7,"y":32},
{"s":"D15","x":20.1,"y":0},{"s":"D15","x":21.5,"y":4},{"s":"D15","x":23.1,"y":10},{"s":"D15","x":24.3,"y":20},{"s":"D15","x":24.9,"y":31.5},
{"s":"N1","x":4.5,"y":52},{"s":"N1","x":6,"y":30},{"s":"N1","x":7.2,"y":10},{"s":"N1","x":8,"y":0},
{"s":"N2","x":6.5,"y":60},{"s":"N2","x":8,"y":38},{"s":"N2","x":9.8,"y":20},{"s":"N2","x":10.4,"y":0},
{"s":"N3","x":8,"y":55},{"s":"N3","x":9.5,"y":45},{"s":"N3","x":11,"y":30},{"s":"N3","x":12,"y":15},{"s":"N3","x":13,"y":0},
{"s":"N4","x":9.5,"y":40},{"s":"N4","x":11,"y":35},{"s":"N4","x":12.5,"y":20},{"s":"N4","x":13.5,"y":15},{"s":"N4","x":14.5,"y":0},
{"s":"N5","x":12.5,"y":44},{"s":"N5","x":14,"y":30},{"s":"N5","x":15.5,"y":10},{"s":"N5","x":16.5,"y":0},
{"s":"N6","x":14,"y":38},{"s":"N6","x":16,"y":15},{"s":"N6","x":17.5,"y":0},
{"s":"N7","x":16.5,"y":30},{"s":"N7","x":17.7,"y":10},{"s":"N7","x":18.2,"y":0},
{"s":"R2","x":36.6,"y":0},{"s":"R2","x":39.7,"y":23},{"s":"R2","x":40.1,"y":23.4},{"s":"R2","x":40.1,"y":20.5},{"s":"R2","x":42.8,"y":21},{"s":"R2","x":43,"y":20},{"s":"R2","x":42.5,"y":17.5},
{"s":"R3","x":40.5,"y":0},{"s":"R3","x":43,"y":17.3},
{"s":"R4","x":41.5,"y":0},{"s":"R4","x":43.3,"y":14},
{"s":"L","x":39.7,"y":13.4},{"s":"L","x":40.2,"y":14.2},{"s":"L","x":40.7,"y":13.5},{"s":"L","x":41.2,"y":12.5},{"s":"L","x":41.7,"y":11},{"s":"L","x":42.3,"y":13.5},{"s":"L","x":43,"y":14},{"s":"L","x":43.7,"y":13.4},{"s":"L","x":44.2,"y":13.9},{"s":"L","x":44.7,"y":13.1},{"s":"L","x":45.2,"y":13.7},{"s":"L","x":45.7,"y":12.9},{"s":"L","x":46.3,"y":12.5},{"s":"L","x":47,"y":13.2},{"s":"L","x":47.7,"y":12.8},{"s":"L","x":48.4,"y":13.9},{"s":"L","x":49,"y":12.8},{"s":"L","x":49.6,"y":13.1},{"s":"L","x":50.2,"y":12.6},{"s":"L","x":50.8,"y":13},{"s":"L","x":51.4,"y":12.7},{"s":"L","x":52,"y":13.2},{"s":"L","x":52.6,"y":12.8},{"s":"L","x":53.1,"y":13.3},{"s":"L","x":54,"y":12.8},{"s":"L","x":54.8,"y":13.1},{"s":"L","x":55.5,"y":13.3},{"s":"L","x":55.3,"y":9.1},{"s":"L","x":56,"y":10},{"s":"L","x":57.3,"y":11},{"s":"L","x":58.2,"y":10.6},{"s":"L","x":59,"y":10.9},{"s":"L","x":60.5,"y":11},{"s":"L","x":61.3,"y":10.7},{"s":"L","x":62,"y":10.8},{"s":"L","x":62.5,"y":9.5},{"s":"L","x":63.6,"y":10.2},{"s":"L","x":64.7,"y":10.5},{"s":"L","x":65.5,"y":10.1},{"s":"L","x":66.3,"y":10.2},{"s":"L","x":67.2,"y":9.9},{"s":"L","x":68,"y":10},{"s":"L","x":69.2,"y":9.7},{"s":"L","x":70.4,"y":9.7},{"s":"L","x":71.6,"y":9.5},{"s":"L","x":72.8,"y":9.4},
{"s":"L2","x":40,"y":12.8},{"s":"L2","x":40.6,"y":13.9},{"s":"L2","x":41.3,"y":13},{"s":"L2","x":43.5,"y":13.9},{"s":"L2","x":44.5,"y":12.9},{"s":"L2","x":45.5,"y":13.5},{"s":"L2","x":46.5,"y":13.2},{"s":"L2","x":47.5,"y":13.6},{"s":"L2","x":48.2,"y":12.7},
{"s":"R5","x":46.3,"y":12.5},{"s":"R5","x":47.2,"y":4.5},{"s":"R5","x":48.4,"y":11.6},
{"s":"R6","x":50.8,"y":12},{"s":"R6","x":50.8,"y":1.1},{"s":"R6","x":53.1,"y":12.5},
{"s":"R6b","x":52.2,"y":7.6},{"s":"R6b","x":53.1,"y":12.5},
{"s":"R7","x":69.2,"y":8.8},{"s":"R7","x":69.2,"y":3.4},{"s":"R7","x":70.4,"y":9.7},
{"s":"R8","x":68.2,"y":0},{"s":"R8","x":71.8,"y":5.1},{"s":"R8","x":72.8,"y":9.4},
{"s":"R9","x":81.3,"y":0},{"s":"R9","x":84.7,"y":13},{"s":"R9","x":85.5,"y":13.2},{"s":"R9","x":86.3,"y":13},{"s":"R9","x":87.1,"y":13.6},{"s":"R9","x":88,"y":13.5},{"s":"R9","x":88.8,"y":13.9},{"s":"R9","x":89.6,"y":13.7},{"s":"R9","x":90.3,"y":14.3},{"s":"R9","x":91,"y":13.8}
]},
"mark":{"type":"line","color":"#000","strokeWidth":1.4,"clip":true},
"encoding":{
"x":{"field":"x","type":"quantitative","scale":{"domain":[0,100],"nice":false},"axis":{"values":[0,10,20,30,40,50,60,70,80,90,100],"grid":true,"labelPadding":20,"title":"Applied Load on each Span (kN)","titleFontSize":25,"titleX":562,"titleY":66,"titleBaseline":"middle","titleAlign":"center"}},
"y":{"field":"y","type":"quantitative","scale":{"domain":[0,200],"nice":false},"axis":{"values":[0,20,40,60,80,100,120,140,160,180,200],"grid":true,"labelPadding":12,"title":"Degree of Moment Redistribution at 2nd Loading Point (%)","titleFontSize":23,"titleX":-88,"titleY":352,"titleAngle":-90,"titleBaseline":"middle","titleAlign":"center"}},
"detail":{"field":"s","type":"nominal"},
"order":{"value":null}
}
}
